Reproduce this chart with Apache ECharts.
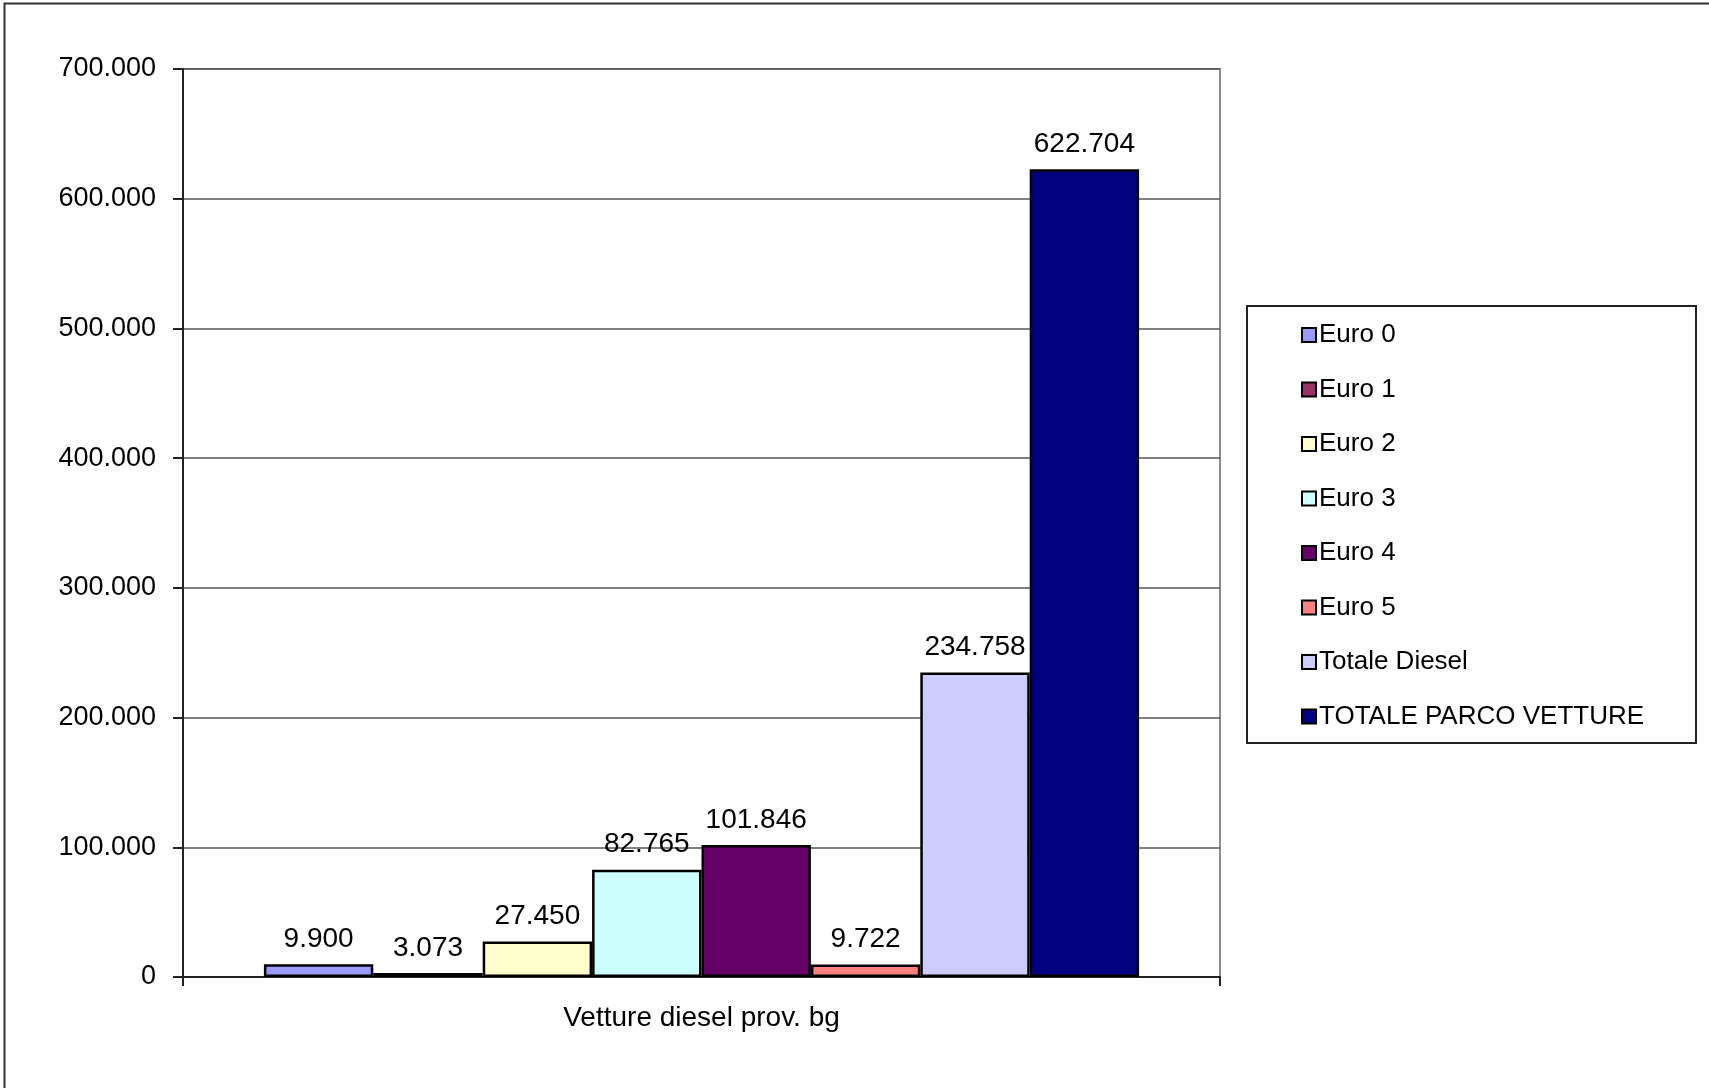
<!DOCTYPE html>
<html>
<head>
<meta charset="utf-8">
<script src="https://cdn.jsdelivr.net/npm/echarts@6/dist/echarts.min.js"></script>
<style>
html,body{margin:0;padding:0;background:#fff;}
#c{width:1709px;height:1088px;}
</style>
</head>
<body>
<div id="c"></div>
<script>
const categories = ['Vetture diesel prov. bg'];
const seriesNames = ['Euro 0','Euro 1','Euro 2','Euro 3','Euro 4','Euro 5','Totale Diesel','TOTALE PARCO VETTURE'];
const seriesValues = [9900, 3073, 27450, 82765, 101846, 9722, 234758, 622704];
const seriesColors = ['#9999FF','#993366','#FFFFCC','#CCFFFF','#660066','#FF8080','#CCCCFF','#000080'];
const yTicks = [0, 100000, 200000, 300000, 400000, 500000, 600000, 700000];

const FONT = 'Liberation Sans, Arial, sans-serif';
function fmt(v){ return String(Math.round(v)).replace(/\B(?=(\d{3})+(?!\d))/g, '.'); }

const chart = echarts.init(document.getElementById('c'));
const series = seriesNames.map((n, i) => ({
  name: n,
  type: 'bar',
  data: [seriesValues[i]],
  barWidth: 109.4,
  barGap: '0%',
  itemStyle: { color: seriesColors[i], borderColor: '#000', borderWidth: 2.5 },
  label: {
    show: true, position: 'top', distance: 11,
    color: '#000', fontFamily: FONT, fontSize: 28,
    formatter: p => fmt(p.value)
  }
}));

chart.setOption({
  animation: false,
  backgroundColor: '#fff',
  grid: { left: 183, right: 489, top: 69, bottom: 111, show: true, borderColor: '#8c8c8c', borderWidth: 2, backgroundColor: 'transparent' },
  xAxis: {
    type: 'category',
    data: categories,
    name: categories[0],
    nameLocation: 'middle',
    nameGap: 27,
    nameTextStyle: { color: '#000', fontFamily: FONT, fontSize: 28 },
    axisLine: { lineStyle: { color: '#222', width: 2 } },
    axisTick: { show: true, length: 9, lineStyle: { color: '#222', width: 2 } },
    axisLabel: { show: false }
  },
  yAxis: {
    type: 'value',
    min: yTicks[0], max: yTicks[yTicks.length - 1], interval: yTicks[1] - yTicks[0],
    axisLine: { show: true, lineStyle: { color: '#222', width: 2 } },
    axisTick: { show: true, length: 10, lineStyle: { color: '#222', width: 2 } },
    splitLine: { lineStyle: { color: '#555', width: 1.5 } },
    axisLabel: { color: '#000', fontFamily: FONT, fontSize: 27, margin: 27, formatter: v => fmt(v) }
  },
  legend: {
    orient: 'vertical',
    left: 1296,
    top: 317,
    icon: 'rect',
    itemWidth: 14,
    itemHeight: 14,
    itemGap: 28.5,
    itemStyle: { borderColor: '#000', borderWidth: 2 },
    textStyle: { color: '#000', fontFamily: FONT, fontSize: 26, lineHeight: 26, padding: [0,0,0,-2] },
    data: seriesNames
  },
  graphic: [
    { type: 'rect', shape: { x: 1247, y: 306, width: 449, height: 437 }, style: { fill: 'transparent', stroke: '#222', lineWidth: 2 }, z: -1 },
    { type: 'rect', shape: { x: 4.5, y: 3.5, width: 1800, height: 1200 }, style: { fill: 'transparent', stroke: '#333', lineWidth: 2 }, z: -1 }
  ],
  series: series
});
</script>
</body>
</html>
